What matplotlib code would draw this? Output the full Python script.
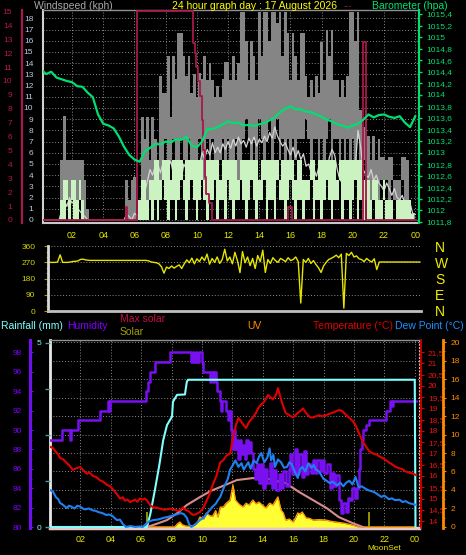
import matplotlib
matplotlib.use('Agg')
import matplotlib.pyplot as plt
import numpy as np

plt.rcParams['font.family'] = ['Liberation Sans', 'DejaVu Sans']

W, H = 466, 555

# ---------------- data ----------------
hour_ticks = [2, 4, 6, 8, 10, 12, 14, 16, 18, 20, 22, 24]
hour_labels = ['02', '04', '06', '08', '10', '12', '14', '16', '18', '20', '22', '00']

# top panel: 10-minute samples 00:00 .. 24:00 (kph)
gust_hi = [0, 0, 0, 0, 0, 0, 0, 0,
           5.4, 9.3, 5.4, 5.4, 5.4, 5.4, 5.4, 5.4, 5.4, 3.6,
           1.0, 0,
           0, 0, 0, 0, 0, 0, 0, 0, 0, 0, 0, 0, 0,
           3.6, 1.8, 3.6, 3.8, 0.5, 1.0,
           9.2, 7.2, 9.2, 5.4, 9.2, 7.2, 5.4, 12.9, 11.3, 11.3, 14.6, 9.2,
           14.6, 12.6, 16.7, 16.7, 14.6, 12.9, 14.6, 11.3, 13.0, 11.0, 13.1, 12.6,
           14.6, 12.5, 14.0, 12.5, 11.0, 12.0, 11.0, 12.6, 14.1, 14.1, 12.5, 14.6,
           12.5, 14.0, 18.6, 18.6, 16.0, 12.5, 16.0, 14.6, 12.5, 18.6, 14.6, 18.6,
           18.6, 16.0, 18.6, 18.6, 17.6, 18.6, 14.6, 18.6, 16.7, 12.5, 16.7, 14.6,
           12.5, 16.7, 16.7, 12.9, 11.0, 12.5, 11.0, 12.9, 11.3, 15.9, 12.5, 17.0,
           14.6, 17.0, 12.5, 12.5, 11.0, 12.5, 11.0, 12.9, 18.6, 18.6, 16.0, 18.6,
           9.8, 8.3, 9.8,
           7.5, 5.4, 7.5, 5.4, 7.2, 5.6, 5.6, 5.4, 5.6, 5.6, 3.6, 3.6, 3.6, 5.6,
           5.6, 5.4, 1.8, 0.6, 0.6]
gust_lo = [0, 0, 0, 0, 0, 0, 0, 0,
           0, 1.8, 1.8, 0, 1.8, 0, 0, 1.8, 0, 0,
           0, 0,
           0, 0, 0, 0, 0, 0, 0, 0, 0, 0, 0, 0, 0,
           0, 0, 0, 0, 0, 0,
           1.8, 3.6, 0, 3.6, 1.8,
           3.6, 5.4, 1.8, 5.4, 7.2, 3.6, 5.4, 7.2, 5.4, 3.6, 7.2, 5.4, 5.4, 7.2, 3.6, 5.4,
           5.4, 7.2, 5.4, 3.6, 7.2, 5.4, 7.2, 5.4, 3.6, 5.4, 7.2, 5.4, 7.2, 5.4, 5.4, 7.2,
           3.6, 5.4, 7.2, 9.0,
           7.2, 5.4, 7.2, 5.4, 9.0, 7.2, 5.4, 7.2, 9.0, 5.4, 7.2, 9.0, 5.4, 7.2, 5.4, 7.2,
           5.4, 7.2, 5.4, 7.2,
           7.2, 7.2, 9.0, 7.2, 5.4, 7.2, 7.2, 5.4, 7.2, 5.4, 7.2, 9.0, 5.4, 7.2, 7.2, 5.4,
           7.2, 5.4, 7.2, 5.4,
           7.2, 5.4, 7.2, 5.4, 5.4, 3.6,
           3.6, 1.8, 3.6, 1.8, 1.8, 3.6, 1.8, 3.6, 1.8, 3.6, 1.8, 1.8, 1.8, 3.6,
           1.8, 1.8, 0.5, 0, 0]
wind_hi = [0, 0, 0, 0, 0, 0, 0, 0,
           1.8, 3.6, 3.6, 1.8, 3.6, 3.6, 1.8, 3.6, 1.8, 0,
           0, 0, 0, 0, 0, 0, 0, 0, 0, 0, 0, 0, 0, 0, 0, 0, 0, 0, 0, 0,
           1.8,
           3.6, 3.6, 1.8, 3.6, 3.6,
           5.4, 5.4, 3.6, 5.4, 5.4, 5.4, 3.6, 5.4, 5.4, 5.4, 5.4, 3.6, 5.4, 5.4, 5.4, 5.4,
           5.4, 5.4, 5.4, 3.6, 5.4, 5.4, 5.4, 5.4, 5.4, 3.6, 5.4, 5.4, 5.4, 5.4, 5.4, 5.4,
           3.6, 5.4, 5.4, 5.4,
           5.4, 5.4, 5.4, 5.4, 3.6, 5.4, 5.4, 5.4, 5.4, 5.4, 5.4, 5.4, 3.6, 5.4, 5.4, 5.4,
           5.4, 5.4, 3.6, 5.4,
           5.4, 3.6, 3.6, 3.6, 5.4, 5.4, 3.6, 5.4, 5.4, 5.4, 5.4, 5.4, 5.4, 5.4, 3.6, 5.4,
           5.4, 5.4, 5.4, 5.4,
           5.4, 5.4, 5.4, 5.4, 3.6, 3.6,
           3.6, 1.8, 3.6, 3.6, 1.8, 1.8, 3.6, 1.8, 1.8, 1.8, 0, 1.8, 1.8, 1.8,
           1.8, 1.8, 1.8, 0.5, 0]
wind_lo = [0, 0, 0, 0, 0, 0, 0, 0,
           0, 0, 1.8, 0, 1.8, 0, 0, 1.8, 0, 0,
           0, 0, 0, 0, 0, 0, 0, 0, 0, 0, 0, 0, 0, 0, 0, 0, 0, 0, 0, 0,
           0,
           0, 0, 0, 1.8, 0,
           1.8, 0, 1.8, 3.6, 1.8, 0, 1.8, 1.8, 0, 1.8, 3.6, 1.8, 0, 1.8, 3.6, 1.8,
           0, 1.8, 3.6, 1.8, 0, 1.8, 1.8, 3.6, 0, 1.8, 1.8, 0, 3.6, 1.8, 0, 1.8,
           1.8, 3.6, 1.8, 0,
           1.8, 3.6, 1.8, 0, 1.8, 1.8, 3.6, 0, 1.8, 1.8, 0, 3.6, 1.8, 1.8, 0, 1.8,
           3.6, 1.8, 0, 1.8,
           1.8, 0, 1.8, 1.8, 3.6, 0, 1.8, 1.8, 0, 1.8, 3.6, 1.8, 0, 1.8, 1.8, 3.6,
           0, 1.8, 1.8, 0,
           1.8, 3.6, 0, 1.8, 0, 1.8,
           0, 0, 1.8, 0, 0, 0, 1.8, 0, 0, 0, 0, 0, 0, 0,
           0, 0, 0, 0, 0]
wind_avg = [0, 0, 0, 0, 0, 0, 0, 0,
            0.8, 1.8, 1.2, 2.0, 1.5, 1.8, 1.0, 0.8, 0.5, 0.3,
            0, 0, 0, 0, 0, 0, 0, 0, 0, 0, 0, 0, 0, 0, 0,
            0.5, 0.3, 0, 0.6, 0.4, 0.5,
            2.0, 2.5, 3.5, 4.5, 4.0, 4.8, 5.0, 4.2, 5.1, 3.8, 4.6, 5.3,
            4.0, 5.2, 4.4, 3.6, 5.0, 4.5, 5.1, 3.8, 4.6, 4.0, 4.8, 6.0,
            5.5, 6.3, 5.8, 6.9, 6.0, 6.5, 6.0, 6.8, 6.3, 7.0, 6.4, 7.2,
            6.6, 7.4, 6.8, 7.1, 6.5, 7.3, 6.8, 7.4, 6.6, 7.2, 6.9, 7.5,
            7.0, 7.8, 7.3, 8.3, 7.5, 7.0, 6.6, 6.9, 6.3, 5.8, 6.5, 5.6,
            6.2, 5.4, 5.9, 4.8, 5.0, 4.2, 4.6, 3.9, 4.8, 4.2, 5.0, 4.5,
            5.6, 6.3, 5.8, 4.5, 3.6, 3.3, 3.8, 3.3, 4.0, 3.5, 5.0, 8.0,
            6.5, 4.5, 4.0,
            3.8, 4.5, 3.5, 4.0, 3.3, 3.0, 2.6, 3.3, 2.8, 2.2, 2.8, 2.0, 1.8, 2.2,
            1.5, 1.0, 1.5, 0.6, 0.5]

# crimson trace (left crimson scale), change points
red_h = [0.0, 5.45, 5.55, 6.15, 9.76, 9.88, 9.95, 10.05, 10.2, 10.3, 10.4, 10.5,
         10.6, 10.75, 10.95, 15.85, 16.1, 20.65, 20.85, 24.05]
red_v = [0, 0.9, 0, 15, 12.7, 12.0, 11.0, 10.0, 8.9, 7.2, 5.0, 3.1,
         1.9, 1.2, 0, 0.9, 0, 12.8, 0, 0]

# barometer, 20-minute samples (hPa)
baro = [1014.45, 1014.36, 1014.40, 1014.30, 1014.27, 1014.24, 1014.22, 1014.15, 1014.14,
        1014.04, 1013.96, 1013.66, 1013.50, 1013.47, 1013.42, 1013.28, 1013.10, 1012.96,
        1012.88, 1012.84, 1013.02, 1013.08, 1013.15, 1013.14, 1013.19, 1013.18, 1013.23,
        1013.22, 1013.27, 1013.12, 1013.09, 1013.19, 1013.40, 1013.41, 1013.44, 1013.49,
        1013.54, 1013.51, 1013.52, 1013.47, 1013.48, 1013.46, 1013.49, 1013.51, 1013.56,
        1013.61, 1013.70, 1013.76, 1013.80, 1013.75, 1013.75, 1013.71, 1013.70, 1013.66,
        1013.62, 1013.57, 1013.54, 1013.49, 1013.47, 1013.43, 1013.47, 1013.50, 1013.57,
        1013.66, 1013.61, 1013.65, 1013.66, 1013.62, 1013.60, 1013.63, 1013.52, 1013.44,
        1013.63]

# wind direction, 10-minute samples (degrees)
wind_dir = [270, 270, 270, 272, 312, 270, 270, 270, 272, 275, 276, 278,
            286, 288, 284, 282, 281, 281, 281, 281, 281, 281, 281, 281,
            281, 281, 281, 281, 281, 281, 281, 281, 281, 281, 281, 281,
            281, 281, 281, 278, 272, 270, 268, 262, 246, 210, 244, 236,
            250, 238, 248, 256, 236, 262, 284, 268, 294, 262, 290, 274,
            300, 280, 316, 260, 292, 270, 300, 264, 286, 343, 278, 300,
            262, 326, 280, 213, 330, 268, 300, 252, 292, 236, 308, 274,
            338, 214, 286, 264, 296, 280, 270, 292, 284, 274, 296, 280,
            286, 300, 274, 44, 286, 270, 292, 264, 280, 258, 240, 214,
            250, 270, 286, 292, 300, 310, 296, 316, 16, 320, 308, 326,
            300, 306, 290, 286, 274, 292, 280, 272, 290, 230, 272, 272,
            272, 272, 272, 272, 272, 272, 272, 272, 272, 272, 272, 272,
            272, 272, 272]

# bottom panel
temp_h = [0.0, 0.2, 0.35, 0.5, 0.66, 0.85, 1.1, 1.3, 1.5, 1.75,
          2.0, 2.2, 2.43, 2.6, 2.83, 3.05, 3.3, 3.5, 3.75, 3.95,
          4.15, 4.4, 4.6, 4.8, 4.93, 5.1, 5.26, 5.45, 5.6, 5.75,
          5.9, 6.1, 6.25, 6.4, 6.6, 6.8, 7.0, 7.24, 7.5, 7.7,
          7.9, 8.1, 8.25, 8.4, 8.6, 8.75, 8.9, 9.1, 9.25, 9.4,
          9.6, 9.87, 10.1, 10.33, 10.5, 10.7, 10.95, 11.2, 11.4, 11.6,
          11.85, 12.04, 12.25, 12.4, 12.55, 12.7, 12.9, 13.1, 13.35, 13.55,
          13.75, 13.95, 14.1, 14.35, 14.5, 14.67, 14.87, 15.0, 15.2, 15.35,
          15.5, 15.75, 16.0, 16.15, 16.3, 16.5, 16.65, 16.8, 16.97, 17.15,
          17.3, 17.5, 17.7, 17.9, 18.15, 18.35, 18.55, 18.75, 19.0, 19.2,
          19.35, 19.5, 19.67, 19.9, 20.1, 20.33, 20.6, 20.8, 21.0, 21.25,
          21.5, 21.7, 21.9, 22.1, 22.3, 22.55, 22.75, 22.96, 23.2, 23.4,
          23.65, 23.9, 24.08]
temp_v = [17.3, 17.24, 17.1, 17.0, 16.8, 16.75, 16.58, 16.45, 16.27, 16.35,
          16.4, 16.25, 16.1, 16.15, 16.0, 15.95, 15.8, 15.75, 15.6, 15.55,
          15.4, 15.2, 15.0, 15.05, 14.9, 14.95, 14.84, 14.9, 14.95, 14.85,
          15.0, 14.95, 15.0, 14.9, 14.7, 14.6, 14.6, 14.55, 14.5, 14.52,
          14.55, 14.5, 14.5, 14.45, 14.5, 14.6, 14.5, 14.45, 14.35, 14.27,
          14.3, 14.4, 14.6, 14.93, 15.2, 15.6, 16.0, 16.6, 16.7, 16.9,
          17.0, 17.7, 18.3, 18.57, 18.45, 18.3, 18.13, 18.4, 18.6, 18.8,
          19.07, 19.2, 19.3, 19.6, 19.5, 19.4, 19.6, 19.9, 19.4, 19.1,
          18.8, 18.7, 18.6, 18.7, 18.8, 18.9, 19.0, 18.85, 18.7, 18.6,
          18.6, 18.65, 18.7, 18.65, 18.7, 18.75, 18.8, 18.85, 18.93, 18.9,
          18.8, 18.7, 18.6, 18.45, 18.27, 17.9, 17.5, 17.3, 17.1, 17.0,
          16.95, 16.85, 16.8, 16.7, 16.6, 16.5, 16.4, 16.35, 16.3, 16.2,
          16.15, 16.1, 16.04]

dew_h = [0.0, 0.2, 0.4, 0.55, 0.66, 0.85, 1.1, 1.25, 1.4, 1.6,
         1.8, 2.0, 2.15, 2.3, 2.55, 2.8, 3.0, 3.2, 3.45, 3.7,
         3.9, 4.1, 4.4, 4.6, 4.8, 5.0, 5.3, 5.6, 5.9, 6.1,
         6.3, 6.5, 6.8, 7.1, 7.5, 7.8, 8.2, 8.4, 8.6, 8.8,
         9.0, 9.15, 9.3, 9.5, 9.87, 10.1, 10.3, 10.5, 10.7, 10.9,
         11.05, 11.2, 11.35, 11.5, 11.7, 11.85, 12.0, 12.2, 12.4, 12.6,
         12.75, 12.9, 13.05, 13.2, 13.4, 13.6, 13.75, 13.9, 14.1, 14.3,
         14.45, 14.55, 14.7, 14.8, 15.0, 15.2, 15.4, 15.6, 15.75, 15.9,
         16.1, 16.3, 16.45, 16.6, 16.8, 17.0, 17.2, 17.35, 17.5, 17.7,
         17.85, 18.0, 18.2, 18.4, 18.6, 18.9, 19.1, 19.3, 19.5, 19.7,
         19.9, 20.1, 20.2, 20.3, 20.5, 20.7, 20.9, 21.1, 21.3, 21.5,
         21.8, 22.0, 22.3, 22.5, 22.7, 23.0, 23.2, 23.4, 23.6, 23.8,
         24.08]
dew_v = [4.0, 3.8, 3.2, 3.0, 2.6, 2.4, 2.05, 2.3, 2.2, 2.0,
         2.3, 2.2, 2.0, 1.9, 2.0, 1.8, 1.75, 1.6, 1.5, 1.3,
         1.35, 1.2, 0.75, 0.8, 0.3, 0.0, 0.1, 0.0, 0.05, 0.0,
         0.3, 0.6, 0.75, 0.8, 1.0, 1.1, 1.3, 1.4, 1.5, 1.4,
         1.0, 0.3, 0.0, 0.2, 0.75, 1.0, 1.4, 1.8, 2.2, 2.5,
         2.9, 3.25, 3.9, 4.5, 5.2, 6.2, 6.6, 7.2, 6.5, 6.9,
         6.2, 6.6, 7.0, 6.3, 7.2, 6.9, 7.6, 8.0, 7.0, 7.5,
         8.5, 7.2, 7.8, 6.5, 7.3, 7.0, 6.4, 6.5, 7.0, 6.8,
         6.0, 5.3, 6.2, 6.5, 6.0, 6.9, 6.4, 6.7, 6.2, 6.0,
         5.6, 5.2, 5.0, 4.75, 4.9, 4.5, 4.8, 4.4, 4.8, 5.0,
         4.6, 5.4, 4.9, 4.3, 4.4, 4.2, 4.0, 3.9, 3.8, 3.6,
         3.25, 3.4, 3.0, 3.1, 2.9, 2.95, 2.7, 2.8, 2.6, 2.5,
         2.4]

hum_h = [0.0, 0.8, 1.3, 1.4, 1.5, 1.85, 3.3, 3.8, 3.85, 3.95,
         6.3, 6.45, 6.6, 6.9, 7.9, 9.3, 9.4, 9.5, 9.6, 9.7,
         9.8, 10.0, 10.07, 10.5, 10.6, 10.7, 10.8, 10.9, 11.0, 11.2,
         11.25, 11.35, 11.6, 11.7, 11.8, 11.9, 12.0, 12.1, 12.2, 12.3,
         12.4, 12.5, 12.6, 12.7, 12.8, 12.9, 13.0, 13.1, 13.2, 13.35,
         13.5, 13.6, 13.75, 13.9, 14.0, 14.15, 14.3, 14.45, 14.6, 14.75,
         14.9, 15.05, 15.2, 15.35, 15.5, 15.7, 15.8, 15.95, 16.1, 16.25,
         16.4, 16.55, 16.7, 16.85, 17.0, 17.15, 17.3, 17.45, 17.6, 17.75,
         17.9, 18.05, 18.2, 18.4, 18.55, 18.7, 18.85, 19.0, 19.15, 19.3,
         19.45, 19.6, 19.75, 19.9, 20.05, 20.2, 20.3, 20.4, 20.5, 20.6,
         20.8, 21.0, 22.1, 22.4, 22.5, 22.6, 24.05]
hum_v = [89, 90, 89, 90, 90, 91, 92, 93, 92, 93,
         94, 95, 96, 97, 98, 97, 98, 97, 98, 97,
         98, 97, 96, 95, 96, 95, 96, 95, 94, 93,
         92, 93, 92, 91, 92, 90, 88, 90, 88, 89,
         87, 89, 87.5, 88.5, 87, 89, 87.6, 88.8, 87.6, 86,
         85, 86.5, 84.5, 86.5, 84, 86, 84.5, 86.6, 84, 85.9,
         83.8, 85.5, 84, 85.8, 84.2, 86, 87.5, 85.5, 88, 85.5,
         87.5, 85.2, 87.8, 85.5, 86.5, 85.6, 86.9, 85.6, 86.9, 85.8,
         86.9, 85.6, 86.5, 84, 85.6, 84.2, 85.4, 82.8, 81.4, 82.5,
         81.5, 83, 82.8, 84, 83, 84, 86, 88, 89, 90,
         90.5, 91, 92, 93, 92.5, 93, 93]

rain_h = [0.0, 6.38, 6.6, 6.9, 7.2, 7.45, 7.7, 8.03, 8.09, 8.36, 8.88, 9.0, 9.08, 24.0, 24.05]
rain_v = [0, 0, 0.35, 1.0, 1.7, 2.36, 2.77, 3.0, 3.4, 3.59, 3.6, 3.94, 4.0, 4.0, 0]

solar_h = [0, 8.2, 8.4, 8.55, 8.7, 8.9, 9.2, 9.5, 9.7, 9.87,
           10.1, 10.3, 10.5, 10.7, 10.9, 11.05, 11.2, 11.4, 11.6, 11.85,
           12.04, 12.2, 12.45, 12.7, 12.9, 13.1, 13.35, 13.55, 13.75, 14.0,
           14.2, 14.45, 14.67, 14.85, 15.0, 15.2, 15.35, 15.5, 15.75, 16.0,
           16.15, 16.3, 16.45, 16.6, 16.85, 17.1, 17.3, 17.7, 18.15, 18.5,
           18.8, 19.3, 19.9, 20.3, 24.0]
solar_v = [0, 0, 60, 88, 40, 20, 10, 30, 80, 176,
           140, 247, 200, 190, 290, 176, 350, 353, 420, 476,
           740, 476, 400, 353, 420, 388, 476, 410, 440, 380,
           335, 420, 388, 470, 530, 300, 250, 123, 140, 88,
           160, 247, 230, 265, 160, 150, 123, 130, 123, 100,
           88, 70, 35, 0, 0]

maxsolar_h = [6.38, 7.0, 7.7, 8.4, 9.0, 9.87, 10.6, 11.2, 12.3, 13.35,
              14.4, 15.5, 16.4, 17.3, 18.2, 19.0, 19.9, 20.6]
maxsolar_v = [0, 55, 123, 250, 388, 529, 640, 705, 829, 864,
              847, 776, 617, 476, 335, 176, 70, 0]

event_h = [6.38, 21.0]      # sun / moon event markers

# ---------------- drawing ----------------
fig = plt.figure(figsize=(W / 100, H / 100), dpi=100, facecolor='black')


def rect(l, t, r, b):
    return [l / W, 1 - b / H, (r - l) / W, (b - t) / H]


def comma(v):
    s = f"{v:.1f}"
    if s.endswith('.0'):
        s = s[:-2]
    return s.replace('.', ',')


def hide_spines(ax):
    for s in ax.spines.values():
        s.set_visible(False)


DOT = (0, (1, 2))
GRIDC = '#8a8a8a'
FS = 6

# ===== top panel =====
axW = fig.add_axes(rect(43, 10, 419, 223), facecolor='black')
t10 = np.arange(len(gust_hi)) / 6.0
axW.fill_between(t10, gust_lo, gust_hi, step='mid', color='#858585', lw=0, zorder=1)
axW.plot(t10, wind_avg, color='#d4d4d4', lw=0.9, zorder=1.5)
axW.fill_between(t10, wind_lo, wind_hi, step='mid', color='#cbf3c2', lw=0, zorder=2)
axW.set_xlim(0.14, 24.24)
axW.set_ylim(-0.27, 18.75)
axW.set_yticks(range(0, 19))
axW.set_xticks(hour_ticks)
axW.set_xticklabels(hour_labels)
axW.grid(True, color=GRIDC, ls=DOT, lw=0.7)
axW.set_axisbelow(True)
axW.tick_params(axis='y', length=0, pad=7, labelsize=FS, labelcolor='#b8cce4')
axW.tick_params(axis='x', length=0, pad=6, labelsize=6.5, labelcolor='#e8e800')
axW.spines['left'].set_color('#d0d0d0'); axW.spines['left'].set_linewidth(1.5)
axW.spines['bottom'].set_color('#c8c8c8'); axW.spines['bottom'].set_linewidth(1.5)
axW.spines['top'].set_color('#909090'); axW.spines['top'].set_linewidth(1)
axW.spines['right'].set_visible(False)

axRed = axW.twinx()
axRed.plot(red_h, red_v, drawstyle='steps-post', color='#a8184a', lw=1.3)
axRed.set_ylim(-0.22, 15.1)
axRed.set_yticks(range(0, 16))
axRed.yaxis.tick_left()
hide_spines(axRed)
axRed.spines['left'].set_visible(True)
axRed.spines['left'].set_position(('axes', -(43 - 22) / 376))
axRed.spines['left'].set_color('#a8184a'); axRed.spines['left'].set_linewidth(1.6)
axRed.tick_params(axis='y', length=0, pad=7, labelsize=FS, labelcolor='#b8184a')

axB = axW.twinx()
t20 = np.arange(len(baro)) / 3.0
axB.plot(t20, baro, color='#00e070', lw=1.6)
axB.set_ylim(1011.78, 1015.47)
bt = [round(1011.8 + 0.2 * k, 1) for k in range(19)]
axB.set_yticks(bt)
axB.set_yticklabels([comma(v) for v in bt])
hide_spines(axB)
axB.spines['right'].set_visible(True)
axB.spines['right'].set_color('#00e070'); axB.spines['right'].set_linewidth(1.5)
axB.tick_params(axis='y', length=2.5, width=1, color='#00e070', pad=2.5,
                labelsize=FS, labelcolor='#00e070')

fig.text(34 / W, 1 - 6 / H, 'Windspeed (kph)', color='#a8a8a8', fontsize=7.5, ha='left', va='center')
fig.text(172 / W, 1 - 6 / H, '24 hour graph day : 17 August 2026', color='#ffff00', fontsize=7.5,
         ha='left', va='center')
fig.text(344 / W, 1 - 7 / H, '---', color='#c02040', fontsize=6, ha='left', va='center')
fig.text(372 / W, 1 - 6 / H, 'Barometer (hpa)', color='#00e070', fontsize=7.5, ha='left', va='center')

# ===== wind direction panel =====
axD = fig.add_axes(rect(48, 246, 421, 311), facecolor='black')
tdir = np.arange(len(wind_dir)) / 6.0
axD.plot(tdir, wind_dir, color='#e6e600', lw=1)
axD.set_xlim(-0.13, 24.41)
axD.set_ylim(0, 361)
axD.set_yticks([0, 90, 180, 270, 360])
axD.set_yticks(range(0, 361, 30), minor=True)
axD.set_xticks([])
axD.grid(True, axis='y', color=GRIDC, ls=DOT, lw=0.7)
axD.set_axisbelow(True)
axD.tick_params(axis='y', which='major', length=3, color='#a0a000', pad=6,
                labelsize=FS, labelcolor='#d4d400')
axD.tick_params(axis='y', which='minor', length=1.5, color='#a0a000')
axD.spines['left'].set_color('#d8d8d8'); axD.spines['left'].set_linewidth(2)
axD.spines['bottom'].set_color('#c0c0c0'); axD.spines['bottom'].set_linewidth(2)
axD.spines['top'].set_visible(False)
axD.spines['right'].set_visible(False)

axDR = axD.twinx()
axDR.set_ylim(0, 361)
axDR.set_yticks([0, 90, 180, 270, 360])
axDR.set_yticklabels(['N', 'E', 'S', 'W', 'N'])
hide_spines(axDR)
axDR.tick_params(axis='y', length=0, pad=10, labelsize=10, labelcolor='#f0f000')

# ===== bottom panel =====
axG = fig.add_axes(rect(50, 340, 419, 528), facecolor='black')
axG.set_xlim(0, 24.28)
axG.set_ylim(-0.11, 20.22)
axG.set_yticks(range(2, 21, 2))
axG.set_xticks(hour_ticks)
axG.set_xticklabels(hour_labels)
axG.grid(True, color=GRIDC, ls=DOT, lw=0.7)
axG.set_axisbelow(True)
axG.tick_params(axis='y', length=0, labelleft=False)
axG.tick_params(axis='x', length=0, pad=5, labelsize=6.5, labelcolor='#e8e800')
axG.spines['left'].set_color('#e8e8e8'); axG.spines['left'].set_linewidth(2)
axG.spines['bottom'].set_color('#e6c8c8'); axG.spines['bottom'].set_linewidth(2.5)
axG.spines['top'].set_color('#909090'); axG.spines['top'].set_linewidth(1)
axG.spines['right'].set_color('#e0b0b0'); axG.spines['right'].set_linestyle(DOT)
fig.text(384 / W, 1 - 549 / H, 'MoonSet', color='#e8e800', fontsize=6, ha='center', va='center')

axS = axG.twinx()
axS.fill_between(solar_h, 0, solar_v, color='#ffff33', lw=0)
axS.plot(solar_h, solar_v, color='#ff9a00', lw=1)
axS.plot(maxsolar_h, maxsolar_v, color='#d88c8c', lw=1.5)
axS.vlines(event_h, 0, 265, color='#a0a000', lw=1.3)
axS.set_ylim(-17, 3300)
axS.yaxis.set_visible(False)
hide_spines(axS)

axHum = axG.twinx()
axHum.plot(hum_h, hum_v, drawstyle='steps-post', color='#7810f0', lw=1.8)
axHum.set_ylim(79.9, 99.28)
axHum.set_yticks(range(80, 99, 2))
axHum.set_yticks(range(80, 100), minor=True)
axHum.yaxis.tick_left()
hide_spines(axHum)
axHum.spines['left'].set_visible(True)
axHum.spines['left'].set_position(('axes', -20 / 369))
axHum.spines['left'].set_color('#7010f0'); axHum.spines['left'].set_linewidth(2.2)
axHum.tick_params(axis='y', which='major', direction='in', length=2, color='#7010f0', pad=6,
                  labelsize=FS, labelcolor='#8000ff')
axHum.tick_params(axis='y', which='minor', direction='in', length=1.5, color='#7010f0')

axRain = axG.twinx()
axRain.plot(rain_h, rain_v, color='#80ffff', lw=1.5)
axRain.set_ylim(-0.027, 5.08)
axRain.set_yticks([0, 1.25, 2.5, 3.75, 5])
axRain.set_yticklabels(['0', '', '', '', '5'])
axRain.yaxis.tick_left()
hide_spines(axRain)
axRain.tick_params(axis='y', length=3.5, width=1, color='#4a9a9a', pad=3,
                   labelsize=FS, labelcolor='#80ffff')

axT = axG.twinx()
axT.plot(temp_h, temp_v, color='#e00000', lw=1.5)
axT.set_ylim(13.69, 22.04)
tt = [14 + 0.5 * k for k in range(16)]
axT.set_yticks(tt)
axT.set_yticklabels([comma(v) for v in tt])
hide_spines(axT)
axT.spines['right'].set_visible(True)
axT.spines['right'].set_position(('axes', (421 - 50) / 369))
axT.spines['right'].set_color('#e00000'); axT.spines['right'].set_linewidth(1.2)
axT.tick_params(axis='y', length=2.5, color='#e00000', pad=2.5, labelsize=FS, labelcolor='#e81010')

axDew = axG.twinx()
axDew.plot(dew_h, dew_v, color='#2080f0', lw=1.5)
axDew.set_ylim(-0.11, 20.22)
axDew.set_yticks(range(0, 21, 2))
axDew.set_yticks(range(0, 21), minor=True)
hide_spines(axDew)
axDew.spines['right'].set_visible(True)
axDew.spines['right'].set_position(('axes', (443 - 50) / 369))
axDew.spines['right'].set_color('#ff8c00'); axDew.spines['right'].set_linewidth(2)
axDew.tick_params(axis='y', which='major', length=2.5, color='#ff8c00', pad=3,
                  labelsize=FS, labelcolor='#ff8c00')
axDew.tick_params(axis='y', which='minor', length=1.5, color='#ff8c00')

# bottom panel headers
fig.text(1 / W, 1 - 326 / H, 'Rainfall (mm)', color='#80ffff', fontsize=7.5, ha='left', va='center')
fig.text(67 / W, 1 - 326 / H, 'Humidity', color='#8000ff', fontsize=7.5, ha='left', va='center')
fig.text(120 / W, 1 - 319 / H, 'Max solar', color='#c01040', fontsize=7.5, ha='left', va='center')
fig.text(120 / W, 1 - 332 / H, 'Solar', color='#a0a000', fontsize=7.5, ha='left', va='center')
fig.text(247 / W, 1 - 326 / H, 'UV', color='#ff8c00', fontsize=7.5, ha='left', va='center')
fig.text(313 / W, 1 - 326 / H, 'Temperature (°C)', color='#e00000', fontsize=7.5, ha='left', va='center')
fig.text(395 / W, 1 - 326 / H, 'Dew Point (°C)', color='#1e90ff', fontsize=7.5, ha='left', va='center')

fig.savefig('out.png', dpi=100, facecolor='black')
